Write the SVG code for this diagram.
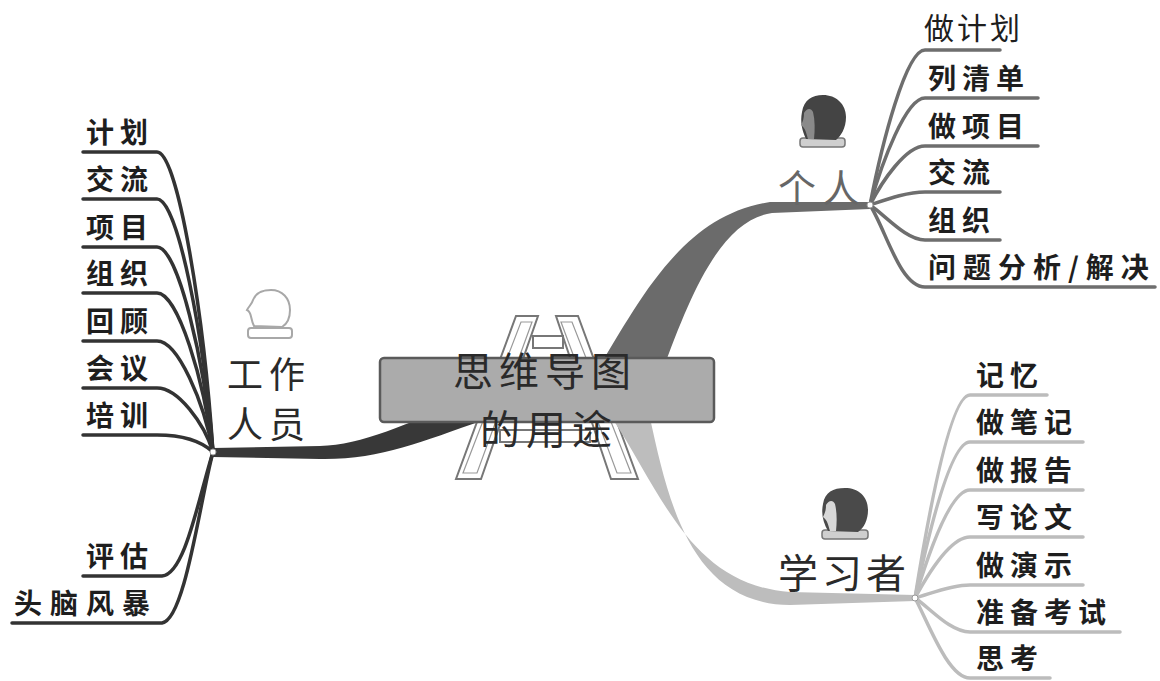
<svg xmlns="http://www.w3.org/2000/svg" width="1160" height="681" viewBox="0 0 1160 681">
  <style>
    .lbl { font-family: "Noto Sans CJK SC", "Noto Sans", sans-serif; font-weight: 700; font-size: 28px; fill: #1e1e1e; letter-spacing: 6px; }
    .big { font-family: "Noto Sans CJK SC", "Noto Sans", sans-serif; font-weight: 400; fill: #2a2a2a; }
    .dk { fill: none; stroke: #333; stroke-width: 3.5; stroke-linecap: round; }
    .md { fill: none; stroke: #6e6e6e; stroke-width: 3.5; stroke-linecap: round; }
    .lt { fill: none; stroke: #bcbcbc; stroke-width: 3.5; stroke-linecap: round; }
    .dot { fill: #fff; stroke: #999; stroke-width: 1; }
  </style>
  <rect width="1160" height="681" fill="#fff"/>

  <!-- A-frame emblem behind the centre box -->
  <g id="emblem" fill="#fff" stroke="#777" stroke-width="2">
    <polygon points="516,316 538,316 481,479 456,479"/>
    <polygon points="521,322 532,322 477,473 463,473" fill="none" stroke="#999" stroke-width="1.2"/>
    <polygon points="556,316 578,316 638,479 611,479"/>
    <polygon points="561,322 572,322 631,473 617,473" fill="none" stroke="#999" stroke-width="1.2"/>
    <rect x="533" y="336" width="30" height="12"/>
    <rect x="500" y="430" width="90" height="12"/>
  </g>

  <g id="connectors">
    <!-- main branches -->
    <path d="M213,448 L320,446 C362,445 405,424 472,398 L484,420 C420,442 380,460 320,459 L213,457 Z" fill="#383838"/>
    <path d="M596,372 C640,300 682,215 770,202 L870,202 L870,209 L772,213 C722,220 692,290 662,372 Z" fill="#6b6b6b"/>
    <path d="M612,418 C660,490 690,585 790,592 L915,595 L915,601 L790,605 C690,604 668,500 650,418 Z" fill="#bdbdbd"/>

    <!-- left sub-branches -->
    <path class="dk" d="M83,152 L157,152 C178,152 204,317 213,452"/>
    <path class="dk" d="M83,199 L157,199 C178,199 204,338 213,452"/>
    <path class="dk" d="M83,247 L157,247 C178,247 204,360 213,452"/>
    <path class="dk" d="M83,293 L157,293 C178,293 204,380 213,452"/>
    <path class="dk" d="M83,341 L157,341 C178,341 204,402 213,452"/>
    <path class="dk" d="M83,388 L157,388 C178,388 204,423 213,452"/>
    <path class="dk" d="M83,435 L157,435 C180,435 200,440 213,452"/>
    <path class="dk" d="M83,576 L162,576 C185,574 198,500 213,452"/>
    <path class="dk" d="M12,623 L162,623 C185,620 200,500 213,452"/>

    <!-- upper right sub-branches -->
    <path class="md" d="M1000,50 L925,50 C906,50 882,143 870,205"/>
    <path class="md" d="M1038,98 L925,98 C906,98 882,162 870,205"/>
    <path class="md" d="M1038,146 L925,146 C906,146 882,181 870,205"/>
    <path class="md" d="M1000,192 L925,192 C906,192 885,200 870,205"/>
    <path class="md" d="M1000,240 L925,240 C906,240 885,215 870,205"/>
    <path class="md" d="M1155,287 L925,287 C900,287 886,230 870,205"/>

    <!-- lower right sub-branches -->
    <path class="lt" d="M1047,395 L970,395 C950,395 928,517 915,598"/>
    <path class="lt" d="M1083,442 L970,442 C950,442 928,536 915,598"/>
    <path class="lt" d="M1083,490 L970,490 C950,490 928,555 915,598"/>
    <path class="lt" d="M1083,537 L970,537 C950,537 928,574 915,598"/>
    <path class="lt" d="M1083,585 L970,585 C950,585 930,594 915,598"/>
    <path class="lt" d="M1120,632 L970,632 C950,632 930,608 915,598"/>
    <path class="lt" d="M1050,678 L970,678 C948,678 928,622 915,598"/>

    <circle class="dot" cx="213" cy="452" r="3"/>
    <circle class="dot" cx="870" cy="205" r="3"/>
    <circle class="dot" cx="915" cy="598" r="3"/>
  </g>

  <g id="center">
    <rect x="380" y="358" width="334" height="64" rx="4" fill="#ababab" stroke="#5a5a5a" stroke-width="2.5"/>
    <text class="big" x="453" y="386" font-size="40" letter-spacing="6">思维导图</text>
    <text class="big" x="480" y="444" font-size="40" letter-spacing="6">的用途</text>
  </g>

  <g id="worker">
    <g fill="#fff" stroke="#a8a8a8" stroke-width="2">
      <rect x="248" y="328" width="44" height="10" rx="3"/>
      <path d="M254,326 C250,318 252,312 247,310 C249,306 252,304 253,300 C256,292 264,290 271,290 C282,290 290,298 290,310 C290,318 287,324 282,327 Z"/>
    </g>
    <text class="big" x="227" y="388" font-size="36" letter-spacing="6">工作</text>
    <text class="big" x="227" y="438" font-size="36" letter-spacing="6">人员</text>
    <g class="lbl">
      <text x="86" y="143">计划</text>
      <text x="86" y="190">交流</text>
      <text x="86" y="238">项目</text>
      <text x="86" y="284">组织</text>
      <text x="86" y="332">回顾</text>
      <text x="86" y="379">会议</text>
      <text x="86" y="426">培训</text>
      <text x="86" y="567">评估</text>
      <text x="14" y="614" letter-spacing="8">头脑风暴</text>
    </g>
  </g>

  <g id="personal">
    <rect x="800" y="138" width="45" height="9" rx="3" fill="#cfcfcf" stroke="#777" stroke-width="1.5"/>
    <path d="M806,139 C802,130 800,122 802,112 C804,100 812,95 823,95 C836,95 846,104 846,117 C846,128 841,136 836,140 Z" fill="#444"/>
    <path d="M808,139 C806,133 806,129 801,125 C803,121 804,118 804,113 C807,108 811,108 813,112 C815,120 815,130 814,139 Z" fill="#8a8a8a"/>
    <text class="big" x="778" y="202" font-size="38" letter-spacing="6" style="fill:#666">个人</text>
    <text class="big" x="924" y="39" font-size="30" letter-spacing="3" style="fill:#1e1e1e">做计划</text>
    <g class="lbl">
      <text x="928" y="89">列清单</text>
      <text x="928" y="137">做项目</text>
      <text x="928" y="183">交流</text>
      <text x="928" y="231">组织</text>
      <text x="928" y="278" letter-spacing="7">问题分析/解决</text>
    </g>
  </g>

  <g id="learner">
    <rect x="822" y="530" width="46" height="9" rx="3" fill="#cfcfcf" stroke="#777" stroke-width="1.5"/>
    <path d="M828,531 C823,522 821,514 823,504 C825,492 833,488 845,488 C858,488 868,496 868,510 C868,520 864,528 858,532 Z" fill="#4a4a4a"/>
    <path d="M830,531 C828,525 828,521 823,517 C825,513 826,510 826,505 C829,500 833,500 835,504 C837,512 837,522 836,531 Z" fill="#d8d8d8"/>
    <text class="big" x="778" y="588" font-size="40" letter-spacing="4">学习者</text>
    <g class="lbl">
      <text x="976" y="386">记忆</text>
      <text x="976" y="433">做笔记</text>
      <text x="976" y="481">做报告</text>
      <text x="976" y="528">写论文</text>
      <text x="976" y="576">做演示</text>
      <text x="976" y="623">准备考试</text>
      <text x="976" y="669">思考</text>
    </g>
  </g>
</svg>
